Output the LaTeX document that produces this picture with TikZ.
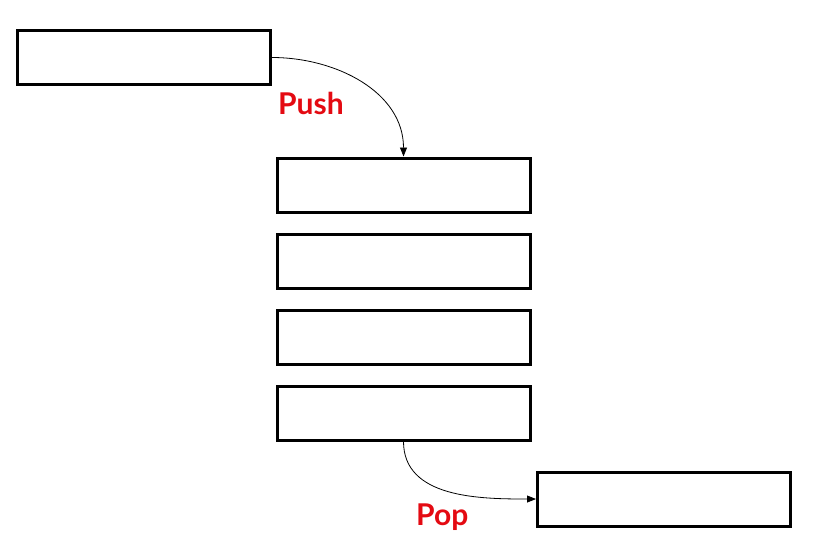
\documentclass[tikz,border=0pt]{standalone}
\usepackage{fontspec}
\newfontfamily\labelfont{Lato}
\usetikzlibrary{arrows.meta}
\definecolor{labelred}{RGB}{228,10,18}
\begin{document}
\begin{tikzpicture}[x=1pt,y=-1pt,
  cell/.style={draw=black,line width=3pt,fill=white,inner sep=0pt,
    minimum width=253pt,minimum height=54pt},
  flow/.style={draw=black,line width=0.8pt,-{Triangle[length=9pt,width=7pt]}},
  oplabel/.style={text=labelred,font=\labelfont\bfseries\fontsize{30}{30}\selectfont,
    inner sep=0pt,anchor=base west}]
\useasboundingbox[fill=white] (0,0) rectangle (826,550);
\node[cell] (top) at (144,57.5) {};
\node[cell] (s1) at (403.5,185) {};
\node[cell] (s2) at (403.5,261) {};
\node[cell] (s3) at (403.5,337) {};
\node[cell] (s4) at (403.5,413) {};
\node[cell] (out) at (664,499) {};
\draw[flow] (top.east) to[out=0,in=90] (s1.north);
\draw[flow] (s4.south) to[out=-90,in=180] (out.west);
\node[oplabel] (push) at (278,114) {Push};
\node[oplabel] (pop) at (416,525) {Pop};
\end{tikzpicture}
\end{document}
